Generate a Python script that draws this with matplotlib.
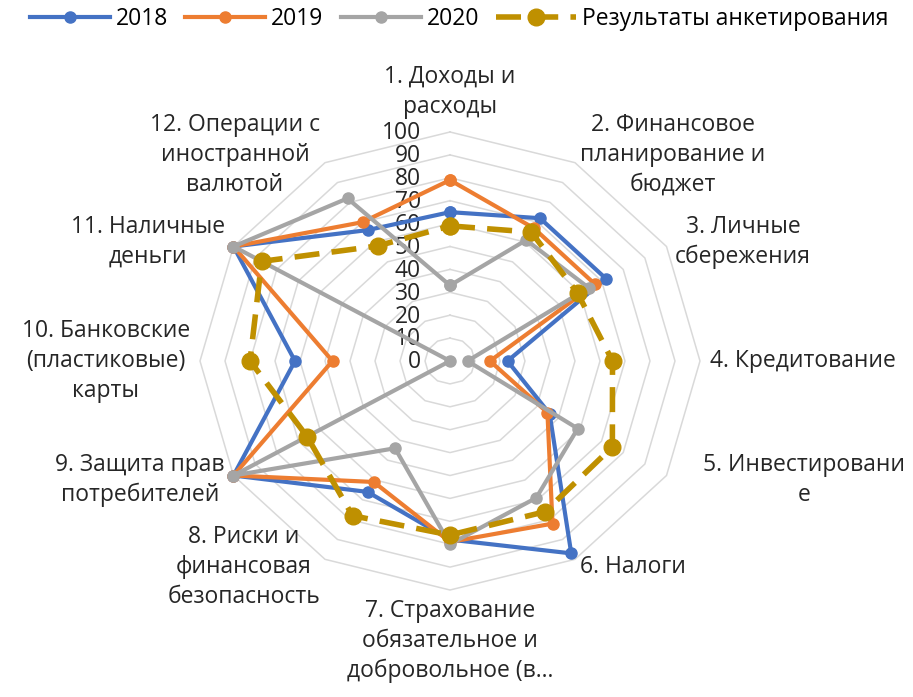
import matplotlib
matplotlib.use('Agg')
import matplotlib.pyplot as plt
import numpy as np

plt.rcParams['font.family'] = ['Open Sans', 'DejaVu Sans']

categories = ['1. Доходы и\nрасходы',
              '2. Финансовое\nпланирование и\nбюджет',
              '3. Личные\nсбережения',
              '4. Кредитование',
              '5. Инвестировани\nе',
              '6. Налоги',
              '7. Страхование\nобязательное и\nдобровольное (в…',
              '8. Риски и\nфинансовая\nбезопасность',
              '9. Защита прав\nпотребителей',
              '10. Банковские\n(пластиковые)\nкарты',
              '11. Наличные\nденьги',
              '12. Операции с\nиностранной\nвалютой']

v2018 = [65, 72, 72, 23, 46, 97, 78, 66, 100, 62, 100, 66]
v2019 = [79, 67, 67, 16, 45, 82, 79, 61, 100, 47, 100, 70]
v2020 = [33, 61, 64, 7, 59, 69, 80, 44, 100, 0, 100, 82]
survey = [59, 65, 59, 65, 75, 76, 76, 78, 66, 80, 87, 58]
ticks = list(range(0, 101, 10))

FS = 16.5
n = len(categories)
theta = np.linspace(0, 2 * np.pi, n, endpoint=False)
theta_c = np.append(theta, theta[0])


def closed(v):
    return np.append(v, v[0])


fig = plt.figure(figsize=(9.13, 6.97), dpi=100)
ax = fig.add_axes([200 / 913, 107 / 697, 500 / 913, 458 / 697], projection='polar')
ax.set_aspect('auto')
ax.set_theta_zero_location('N')
ax.set_theta_direction(-1)
ax.set_ylim(0, 100)
ax.grid(False)
ax.set_xticks([])
ax.set_yticks([])
ax.spines['polar'].set_visible(False)
ax.patch.set_alpha(0)

# polygon gridlines like Excel
for t in ticks[1:]:
    ax.plot(theta_c, [t] * (n + 1), color='#D9D9D9', lw=1.1, zorder=1, clip_on=False)

for t in ticks:
    ax.annotate(str(t), xy=(0, t), xytext=(-21, -1), textcoords='offset points',
                ha='right', va='center', fontsize=FS, color='#262626', zorder=2)

ax.plot(theta_c, closed(v2018), color='#4472C4', lw=3, marker='o', ms=8,
        label='2018', zorder=3, clip_on=False)
ax.plot(theta_c, closed(v2019), color='#ED7D31', lw=3, marker='o', ms=8,
        label='2019', zorder=4, clip_on=False)
ax.plot(theta_c, closed(v2020), color='#A5A5A5', lw=3, marker='o', ms=8,
        label='2020', zorder=5, clip_on=False)
ax.plot(theta_c, closed(survey), color='#BF9000', lw=4, marker='o', ms=12,
        dashes=[4.5, 2.2], label='Результаты анкетирования', zorder=6, clip_on=False)

aligns = [('center', 'bottom'), ('left', 'center'), ('left', 'center'),
          ('left', 'center'), ('left', 'center'), ('left', 'center'),
          ('center', 'top'), ('right', 'center'), ('right', 'center'),
          ('right', 'center'), ('right', 'center'), ('right', 'center')]
for i, (lab, th) in enumerate(zip(categories, theta)):
    ha, va = aligns[i]
    dx = 28 if i == 4 else 0
    dy = 4 if i == 0 else 0
    ax.annotate(lab, xy=(th, 104), xytext=(dx, dy), textcoords='offset pixels',
                ha=ha, va=va, multialignment='center', fontsize=FS,
                color='#262626', linespacing=1.32, annotation_clip=False)

fig.legend(loc='upper center', bbox_to_anchor=(0.503, 1.02), ncol=4, frameon=False,
           fontsize=FS, handlelength=3.5, columnspacing=0.75, handletextpad=0.25)

fig.savefig('out.png', dpi=100)
